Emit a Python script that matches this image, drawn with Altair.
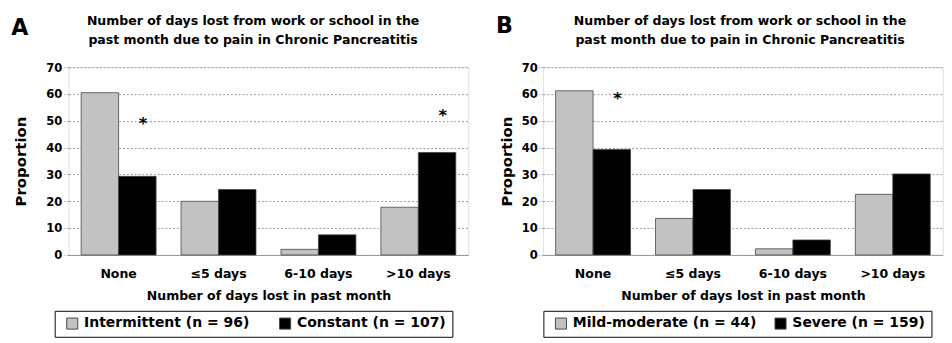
import altair as alt
import pandas as pd

FONT = "DejaVu Sans"

categories = ["None", "≤5 days", "6-10 days", ">10 days"]
title_lines = ["Number of days lost from work or school in the",
               "past month due to pain in Chronic Pancreatitis"]

a_groups = ["Intermittent (n = 96)", "Constant (n = 107)"]
a_intermittent = [60.5, 20.0, 2.1, 17.8]
a_constant = [29.3, 24.4, 7.5, 38.2]
a_star_cats = ["None", ">10 days"]
a_star_vals = [49.3, 52.5]

b_groups = ["Mild-moderate (n = 44)", "Severe (n = 159)"]
b_mild = [61.2, 13.6, 2.3, 22.6]
b_severe = [39.3, 24.4, 5.6, 30.2]
b_star_cats = ["None"]
b_star_vals = [58.7]

W = 415
BAR_W = W / 4 * 0.75 / 2


def panel(letter, groups, v1, v2, star_cats, star_vals, layout):
    d1 = pd.DataFrame({"cat": categories, "grp": groups[0], "val": v1})
    d2 = pd.DataFrame({"cat": categories, "grp": groups[1], "val": v2})
    sdf = pd.DataFrame({"cat": star_cats, "val": star_vals, "t": ["*"] * len(star_cats)})

    x = alt.X("cat:N", sort=categories,
              scale=alt.Scale(domain=categories, paddingInner=0.25, paddingOuter=0.125),
              axis=alt.Axis(title="Number of days lost in past month", labelAngle=0,
                            labelFontSize=13, labelFontWeight="bold", labelColor="black",
                            labelFont=FONT, labelPadding=13, ticks=False, domain=True,
                            domainColor="#999", titleFontSize=13, titleFontWeight="bold",
                            titleFont=FONT, titleColor="black", titlePadding=10))
    y = alt.Y("val:Q", scale=alt.Scale(domain=[0, 70], nice=False),
              axis=alt.Axis(title="Proportion", values=list(range(0, 71, 10)),
                            labelFontSize=12, labelFontWeight="bold", labelColor="black",
                            labelFont=FONT, labelPadding=layout["labpad"], ticks=True,
                            tickSize=5, tickDash=[2, 2], tickColor="#999",
                            labelOverlap=False,
                            domain=False, grid=True, gridColor="#999", gridDash=[2, 2],
                            titleFontSize=15.5, titleFontWeight="bold", titleFont=FONT,
                            titleColor="black", titlePadding=layout["titpad"]))
    color = alt.Color("grp:N", sort=groups,
                      scale=alt.Scale(domain=groups, range=["#c2c2c2", "#000000"]),
                      legend=alt.Legend(title=None, orient="none", direction="horizontal",
                                        legendX=layout["lx"], legendY=layout["ly"],
                                        strokeColor="black", padding=6,
                                        symbolType="square", symbolSize=132,
                                        symbolStrokeColor="#444", symbolStrokeWidth=1,
                                        symbolOffset=5, labelLimit=400,
                                        labelFontSize=14.5, labelFontWeight="bold",
                                        labelFont=FONT, labelColor="black",
                                        columnPadding=layout["colpad"], labelOffset=5))

    bars1 = alt.Chart(d1).mark_bar(stroke="#444", strokeWidth=0.8, width=BAR_W,
                                   xOffset=-BAR_W / 2).encode(x=x, y=y, color=color)
    bars2 = alt.Chart(d2).mark_bar(stroke="#444", strokeWidth=0.8, width=BAR_W,
                                   xOffset=BAR_W / 2).encode(x=x, y=y, color=color)
    stars = alt.Chart(sdf).mark_text(fontSize=17, fontWeight="bold", font=FONT,
                                     baseline="alphabetic", dy=7, dx=BAR_W / 2 + 6,
                                     color="black").encode(x=x, y=y, text="t:N")
    lab = alt.Chart(pd.DataFrame({"t": [letter]})).mark_text(
        fontSize=23, fontWeight="bold", font=FONT, align="left",
        baseline="alphabetic", color="black").encode(
        text="t:N", x=alt.value(layout["ax"]), y=alt.value(layout["ay"]))
    head = alt.Chart(pd.DataFrame({"t": [0]})).mark_text(
        text=title_lines, fontSize=13, fontWeight="bold", font=FONT, align="center",
        baseline="alphabetic", lineHeight=20, color="black").encode(
        x=alt.value(layout["hx"]), y=alt.value(-44))

    return alt.layer(bars1, bars2, stars, lab, head).properties(width=W, height=195)


pa = panel("A", a_groups, a_intermittent, a_constant, a_star_cats, a_star_vals,
           dict(labpad=2, titpad=18.5, lx=-14.5, ly=253, ax=-59.5, ay=-33,
                hx=191.5, colpad=24))
pb = panel("B", b_groups, b_mild, b_severe, b_star_cats, b_star_vals,
           dict(labpad=1, titpad=6.7, lx=0.3, ly=253, ax=-49, ay=-35,
                hx=204.5, colpad=12))

chart = alt.hconcat(pa, pb, spacing=26.7).resolve_scale(
    color="independent", x="independent", y="independent"
).resolve_legend(color="independent").configure_view(
    stroke="#999", strokeWidth=1
).configure_legend(strokeWidth=1.2).configure(background="white").properties(
    padding={"left": 3, "top": 0, "right": 0, "bottom": 0})

chart.save("out.html", embed_options={"renderer": "svg", "actions": False})
